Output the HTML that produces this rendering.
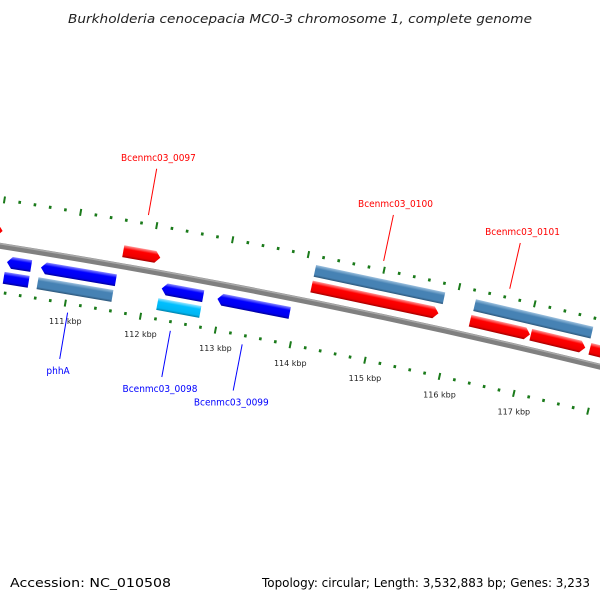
<!DOCTYPE html>
<html><head><meta charset="utf-8"><style>
html,body{margin:0;padding:0;background:#fff;width:600px;height:600px;overflow:hidden;}
svg{display:block;}
</style></head><body>
<svg id="map" width="600" height="600" viewBox="0 0 600 600" xmlns="http://www.w3.org/2000/svg">
<defs>
<linearGradient id="g-red" x1="0" y1="0" x2="0" y2="1"><stop offset="0" stop-color="#ff9a9a"/><stop offset="0.3" stop-color="#ff0000"/><stop offset="0.8" stop-color="#ee0000"/><stop offset="1" stop-color="#a00000"/></linearGradient>
<linearGradient id="g-blue" x1="0" y1="0" x2="0" y2="1"><stop offset="0" stop-color="#8a8aff"/><stop offset="0.3" stop-color="#0000ff"/><stop offset="0.8" stop-color="#0000ee"/><stop offset="1" stop-color="#00009a"/></linearGradient>
<linearGradient id="g-steel" x1="0" y1="0" x2="0" y2="1"><stop offset="0" stop-color="#9cc0de"/><stop offset="0.3" stop-color="#4682b4"/><stop offset="0.8" stop-color="#4682b4"/><stop offset="1" stop-color="#2c5578"/></linearGradient>
<linearGradient id="g-cyan" x1="0" y1="0" x2="0" y2="1"><stop offset="0" stop-color="#9be6ff"/><stop offset="0.3" stop-color="#00bfff"/><stop offset="0.8" stop-color="#00b6f2"/><stop offset="1" stop-color="#007fa8"/></linearGradient>
</defs>
<text x="300" y="23" text-anchor="middle" font-family="DejaVu Sans, Liberation Sans, sans-serif" font-style="italic" font-size="12.5" textLength="464" lengthAdjust="spacingAndGlyphs" fill="#222">Burkholderia cenocepacia MC0-3 chromosome 1, complete genome</text>
<circle cx="-1152" cy="7508" r="7353" fill="none" stroke="#808080" stroke-width="6"/>
<circle cx="-1152" cy="7508" r="7355" fill="none" stroke="#a8a8a8" stroke-width="1.5"/>
<g id="ticks"></g>
<g id="genes"></g>
<g id="labels"></g>
<text x="10" y="587" font-family="DejaVu Sans, Liberation Sans, sans-serif" font-size="12" textLength="161" lengthAdjust="spacingAndGlyphs" fill="#000">Accession: NC_010508</text>
<text x="262" y="587" font-family="DejaVu Sans, Liberation Sans, sans-serif" font-size="12" textLength="328" lengthAdjust="spacingAndGlyphs" fill="#000">Topology: circular; Length: 3,532,883 bp; Genes: 3,233</text>
</svg>
<script>
// gene data (kbp)
const geneStarts = [109.7, 111.63, 114.12, 116.23, 117.04, 117.83, 114.12, 116.24, 110.16, 110.61, 112.21, 112.95, 110.15, 110.6, 112.19];
const geneEnds   = [110.04, 112.12, 115.81, 117.03, 117.77, 118.6, 115.84, 117.81, 110.48, 111.6, 112.76, 113.91, 110.48, 111.59, 112.76];
const geneRows   = ['f1','f1','f1','f1','f1','f1','f2','f2','r1','r1','r1','r1','r2','r2','r2'];
const geneColors = ['red','red','red','red','red','red','steel','steel','blue','blue','blue','blue','blue','steel','cyan'];
const geneArrow  = [1,1,1,1,1,1,0,0,1,1,1,1,0,0,0];
const labelTexts = ['Bcenmc03_0097','Bcenmc03_0100','Bcenmc03_0101','phhA','Bcenmc03_0098','Bcenmc03_0099'];
const labelGene  = [1, 2, 4, 13, 14, 11];
const labelPos   = [111.87, 114.97, 116.64, 111.05, 112.42, 113.38];
const tickLabels = [111, 112, 113, 114, 115, 116, 117];
const tickMin = 109.4, tickMax = 118.6;

const NS = 'http://www.w3.org/2000/svg';
const CX = -1152, CY = 7508, R = 7353;
const deg = Math.PI / 180;
function angleOf(k) { return (9.59 + (k - 111) * 0.598) * deg; }
function pt(k, off) {
  const a = angleOf(k), r = R + off;
  return [CX + r * Math.sin(a), CY - r * Math.cos(a)];
}
const rowBands = { f1: [9, 21], f2: [25, 37], r1: [-21, -9], r2: [-37, -25] };

// ticks
const tg = document.getElementById('ticks');
for (let i = Math.round(tickMin * 5); i <= Math.round(tickMax * 5); i++) {
  const k = i / 5;
  const major = i % 5 === 0;
  [46, -46].forEach(function (off) {
    const a0 = major ? off - 3.5 : off - 1.5, a1 = major ? off + 3.5 : off + 1.5;
    const p0 = pt(k, a0), p1 = pt(k, a1);
    const ln = document.createElementNS(NS, 'line');
    ln.setAttribute('x1', p0[0]); ln.setAttribute('y1', p0[1]);
    ln.setAttribute('x2', p1[0]); ln.setAttribute('y2', p1[1]);
    ln.setAttribute('stroke', '#1a7a1a');
    ln.setAttribute('stroke-width', major ? 2 : 2.6);
    
    
    tg.appendChild(ln);
  });
}
tickLabels.forEach(function (k) {
  const p = pt(k, -46);
  const t = document.createElementNS(NS, 'text');
  t.setAttribute('x', p[0]); t.setAttribute('y', p[1] + 21);
  t.setAttribute('text-anchor', 'middle');
  t.setAttribute('font-family', 'DejaVu Sans, Liberation Sans, sans-serif');
  t.setAttribute('font-size', '8');
  t.setAttribute('fill', '#222');
  t.textContent = k + ' kbp';
  
  
  tg.appendChild(t);
});

// genes
const gg = document.getElementById('genes');
geneStarts.forEach(function (s, i) {
  const e = geneEnds[i];
  const mid = (s + e) / 2;
  const band = rowBands[geneRows[i]];
  const c = pt(mid, 0);
  const L = R * (angleOf(e) - angleOf(s));
  const half = L / 2, top = -band[1], bot = -band[0], m = (top + bot) / 2;
  const h = 5;
  let pts;
  const fwd = geneRows[i][0] === 'f';
  if (!geneArrow[i]) {
    pts = [[-half, top], [half, top], [half, bot], [-half, bot]];
  } else if (fwd) {
    pts = [[-half, top], [half - h, top], [half, m], [half - h, bot], [-half, bot]];
  } else {
    pts = [[-half + h, top], [half, top], [half, bot], [-half + h, bot], [-half, m]];
  }
  const g = document.createElementNS(NS, 'g');
  g.setAttribute('transform', 'translate(' + c[0] + ',' + c[1] + ') rotate(' + (angleOf(mid) / deg) + ')');
  const poly = document.createElementNS(NS, 'polygon');
  poly.setAttribute('points', pts.map(function (p) { return p.join(','); }).join(' '));
  poly.setAttribute('fill', 'url(#g-' + geneColors[i] + ')');
  g.appendChild(poly);
  
  
  gg.appendChild(g);
});

// labels
const lg = document.getElementById('labels');
labelTexts.forEach(function (txt, j) {
  const gi = labelGene[j];
  const fwd = geneRows[gi][0] === 'f';
  const sgn = fwd ? 1 : -1;
  const k = labelPos[j];
  const p0 = pt(k, sgn * 55), p1 = pt(k, sgn * 102), pt2 = pt(k, sgn * 112);
  const color = fwd ? '#ff0000' : '#0000ff';
  const ln = document.createElementNS(NS, 'line');
  ln.setAttribute('x1', p0[0]); ln.setAttribute('y1', p0[1]);
  ln.setAttribute('x2', p1[0]); ln.setAttribute('y2', p1[1]);
  ln.setAttribute('stroke', color); ln.setAttribute('stroke-width', 1);
  
  
  lg.appendChild(ln);
  const t = document.createElementNS(NS, 'text');
  t.setAttribute('x', pt2[0]); t.setAttribute('y', pt2[1] + (fwd ? 2 : 5));
  t.setAttribute('text-anchor', 'middle');
  t.setAttribute('font-family', 'DejaVu Sans Condensed, DejaVu Sans, Liberation Sans, sans-serif');
  t.setAttribute('font-size', '10');
  t.setAttribute('fill', color);
  t.textContent = txt;
  
  
  lg.appendChild(t);
});
</script>
</body></html>
